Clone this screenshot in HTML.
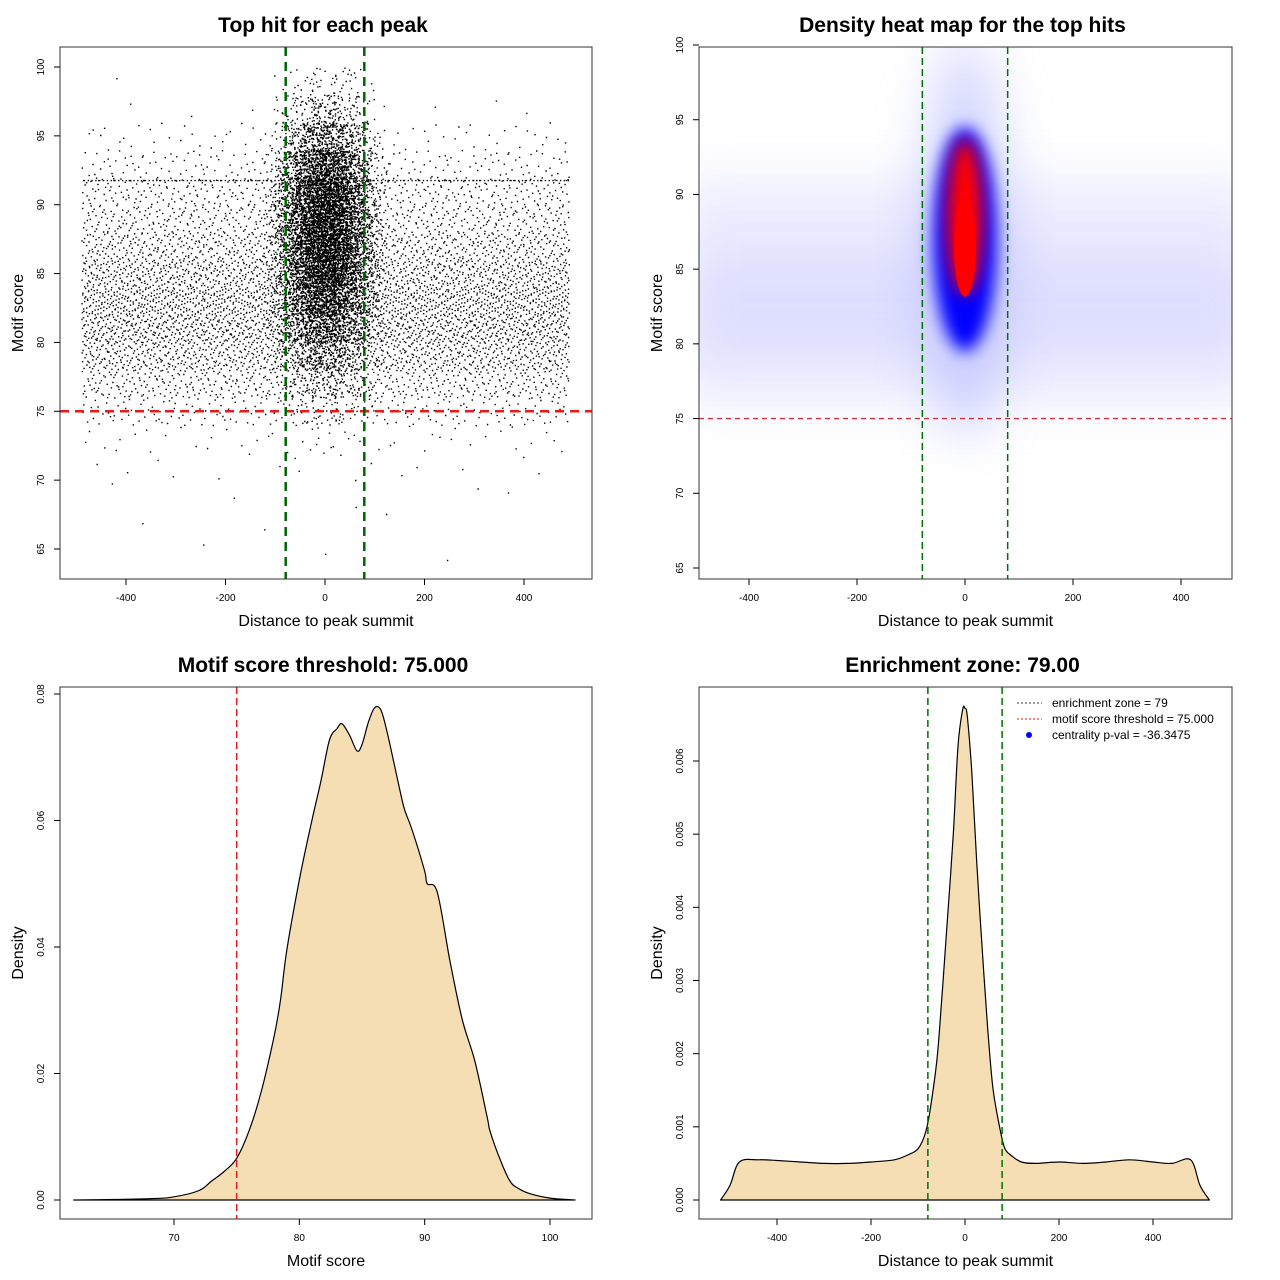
<!DOCTYPE html>
<html><head><meta charset="utf-8"><style>
html,body{margin:0;padding:0;background:#fff}
svg{display:block;font-family:"Liberation Sans",sans-serif}
</style></head><body>
<svg id="root" width="1280" height="1280" viewBox="0 0 1280 1280" xmlns="http://www.w3.org/2000/svg">
<defs>
<filter id="b8" x="-50%" y="-50%" width="200%" height="200%"><feGaussianBlur stdDeviation="8"/></filter>
<filter id="b14" x="-50%" y="-50%" width="200%" height="200%"><feGaussianBlur stdDeviation="14"/></filter>
<filter id="b25" x="-50%" y="-50%" width="200%" height="200%"><feGaussianBlur stdDeviation="25"/></filter>
<clipPath id="c2"><rect x="699" y="47" width="533" height="532"/></clipPath>
</defs>
<g id="p1"></g>
<g id="p2"></g>
<g id="p3"></g>
<g id="p4"></g>
</svg>
<script>
// ---- data ----
const scoreBinStarts = [64,66,68,70,72,74,76,78,80,82,84,86,88,90,92,94,96,98];
const backgroundCounts = [3,3,5,15,45,200,480,800,1000,1050,880,650,460,360,180,70,8,2];
const centralCounts = [0,0,0,2,8,40,120,280,560,880,1200,1400,1400,1300,900,450,170,50];
const bandScore = 91.8;
const bandCount = 160;

const heatBlobX = [0, 0, 0, 0];
const heatBlobY = [87, 87, 88.5, 86.5];

const scoreDensX = [62,68,70,72,73,74,75,76,77,78,78.5,79,80,81,81.7,82.4,83,83.4,84,84.6,85,85.5,86,86.5,87,88,88.4,89,90,90.2,91,92,93,94,95,95.2,96,96.8,97.5,98.4,100,102];
const scoreDensY = [0,0.0002,0.0005,0.0015,0.003,0.0045,0.0066,0.011,0.0174,0.026,0.0316,0.0395,0.0506,0.06,0.066,0.0727,0.0745,0.0753,0.0735,0.071,0.072,0.0755,0.0778,0.0775,0.074,0.065,0.0617,0.0585,0.052,0.050,0.0487,0.038,0.0285,0.022,0.013,0.011,0.0065,0.003,0.0018,0.001,0.0003,0];

const distDensX = [-520,-500,-480,-440,-400,-350,-300,-250,-200,-150,-120,-100,-85,-75,-60,-50,-40,-25,-15,-5,0,5,15,25,40,50,60,75,85,100,120,150,200,250,300,350,400,440,480,500,520];
const distDensY = [0,0.0002,0.00052,0.00055,0.00054,0.00052,0.0005,0.0005,0.00052,0.00055,0.00062,0.0007,0.0009,0.0012,0.0019,0.0027,0.0036,0.0050,0.0062,0.0067,0.00672,0.0066,0.0058,0.0046,0.0031,0.0022,0.0015,0.00095,0.0007,0.0006,0.00052,0.0005,0.00052,0.0005,0.00052,0.00055,0.00052,0.0005,0.00055,0.0002,0];

// ---- helpers ----
const NS="http://www.w3.org/2000/svg";
function mk(parent,tag,attrs,text){const e=document.createElementNS(NS,tag);for(const k in attrs)e.setAttribute(k,attrs[k]);if(text!==undefined)e.textContent=text;parent.appendChild(e);return e;}
function lin(d0,d1,r0,r1){return v=>r0+(v-d0)*(r1-r0)/(d1-d0);}
function halton(i,b){let f=1,r=0;while(i>0){f/=b;r+=f*(i%b);i=Math.floor(i/b);}return r;}
function smooth(pts){let d=`L${pts[0][0].toFixed(1)} ${pts[0][1].toFixed(1)}`;
  for(let i=0;i<pts.length-1;i++){const p0=pts[Math.max(0,i-1)],p1=pts[i],p2=pts[i+1],p3=pts[Math.min(pts.length-1,i+2)];
    const c1=[p1[0]+(p2[0]-p0[0])/6,p1[1]+(p2[1]-p0[1])/6],c2=[p2[0]-(p3[0]-p1[0])/6,p2[1]-(p3[1]-p1[1])/6];
    d+=`C${c1[0].toFixed(1)} ${c1[1].toFixed(1)} ${c2[0].toFixed(1)} ${c2[1].toFixed(1)} ${p2[0].toFixed(1)} ${p2[1].toFixed(1)}`;}
  return d;}

function frame(g,x0,y0,w,h,title,xlab,ylab,sx,xt,sy,yt,ylabs){
  const t=mk(g,'text',{x:x0+w/2-3,y:y0-15,'text-anchor':'middle','font-size':21,'font-weight':'bold'},title);
  
  const r=mk(g,'rect',{x:x0,y:y0,width:w,height:h,fill:'none',stroke:'#333','stroke-width':1});
  
  const xa=mk(g,'g',{});
  xt.forEach(v=>{const X=sx(v);mk(xa,'line',{x1:X,x2:X,y1:y0+h,y2:y0+h+6,stroke:'#000'});
    const tl=mk(xa,'text',{x:X,y:y0+h+22,'text-anchor':'middle','font-size':10},String(v));
    });
  const ya=mk(g,'g',{});
  yt.forEach((v,i)=>{const Y=sy(v);mk(ya,'line',{x1:x0-6,x2:x0,y1:Y,y2:Y,stroke:'#000'});
    const tl=mk(ya,'text',{x:x0-16,y:Y,'text-anchor':'middle','font-size':10,transform:`rotate(-90 ${x0-16} ${Y})`},ylabs?ylabs[i]:String(v));
    });
  const xl=mk(g,'text',{x:x0+w/2,y:y0+h+47,'text-anchor':'middle','font-size':16},xlab);
  
  const yx=x0-37,yy=y0+h/2;
  const yl=mk(g,'text',{x:yx,y:yy,'text-anchor':'middle','font-size':16,transform:`rotate(-90 ${yx} ${yy})`},ylab);
  
}

// ---- panel 1 scatter ----
(function(){
  const g=document.getElementById('p1');
  const sx=lin(0,400,325,524), sy=lin(65,100,549,67);
  let d='';let k=1;
  const dot=(x,y)=>{d+=`M${sx(x).toFixed(1)} ${sy(y).toFixed(1)}h1.4v1.4h-1.4z`;};
  scoreBinStarts.forEach((s,i)=>{
    for(let j=0;j<backgroundCounts[i];j++,k++){dot(-490+980*halton(k,2), s+2*halton(k,3));}
    for(let j=0;j<centralCounts[i];j++,k++){
      const u=(halton(k,2)+halton(k,5)+halton(k,7)-1.5);
      dot(u*90, s+2*halton(k,3));}
  });
  for(let j=0;j<bandCount;j++,k++){const x=-490+980*halton(k,2); if(Math.abs(x)>80) dot(x,bandScore);}
  const p=mk(g,'path',{d:d,fill:'#000'});
  const l1=mk(g,'line',{x1:60,x2:592,y1:sy(75),y2:sy(75),stroke:'#e41a1c','stroke-width':2.5,'stroke-dasharray':'9,6'});
  
  [-79,79].forEach(v=>{const l=mk(g,'line',{x1:sx(v),x2:sx(v),y1:47,y2:579,stroke:'#006400','stroke-width':2.5,'stroke-dasharray':'9,6'});
    });
  frame(g,60,47,532,532,'Top hit for each peak','Distance to peak summit','Motif score',sx,[-400,-200,0,200,400],sy,[65,70,75,80,85,90,95,100]);
})();

// ---- panel 2 heatmap ----
(function(){
  const g=document.getElementById('p2');
  const sx=lin(0,200,965,1073), sy=lin(65,100,568,45);
  const c=mk(g,'g',{'clip-path':'url(#c2)'});
  const haze=mk(c,'rect',{x:680,y:sy(91),width:580,height:sy(76)-sy(91),fill:'#c0c0ff',opacity:0.3,filter:'url(#b25)'});
  
  const haze2=mk(c,'rect',{x:680,y:sy(86),width:580,height:sy(79)-sy(86),fill:'#b0b0ff',opacity:0.22,filter:'url(#b25)'});
  
  const glow=mk(c,'ellipse',{cx:sx(heatBlobX[0]),cy:sy(heatBlobY[0]),rx:45,ry:200,fill:'#aab0ff',opacity:0.5,filter:'url(#b25)'});
  
  const blue=mk(c,'ellipse',{cx:sx(heatBlobX[1]),cy:sy(heatBlobY[1]),rx:32,ry:112,fill:'#0000ff',filter:'url(#b8)'});
  
  const red=mk(c,'ellipse',{cx:sx(heatBlobX[2]),cy:sy(heatBlobY[2]),rx:18,ry:78,fill:'#ff0000',filter:'url(#b8)'});
  
  const red2=mk(c,'ellipse',{cx:sx(heatBlobX[3]),cy:sy(heatBlobY[3]),rx:11,ry:50,fill:'#ff0000'});
  
  const l1=mk(g,'line',{x1:699,x2:1232,y1:sy(75),y2:sy(75),stroke:'#c8323c','stroke-width':1.3,'stroke-dasharray':'5,4'});
  
  [-79,79].forEach(v=>{const l=mk(g,'line',{x1:sx(v),x2:sx(v),y1:47,y2:579,stroke:'#007000','stroke-width':1.5,'stroke-dasharray':'7,4'});
    });
  frame(g,699,47,533,532,'Density heat map for the top hits','Distance to peak summit','Motif score',sx,[-400,-200,0,200,400],sy,[65,70,75,80,85,90,95,100]);
})();

// ---- panel 3 ----
(function(){
  const g=document.getElementById('p3');
  const sx=lin(70,100,174,550), sy=lin(0,0.08,1200,694);
  const pts=scoreDensX.map((x,i)=>[sx(x),sy(scoreDensY[i])]);
  let d=`M${sx(scoreDensX[0])} ${sy(0)}`+smooth(pts)+`L${sx(scoreDensX[scoreDensX.length-1])} ${sy(0)}Z`;
  const p=mk(g,'path',{d:d,fill:'#f5deb3',stroke:'#000','stroke-width':1.2,'stroke-linejoin':'round'});
  
  const l=mk(g,'line',{x1:sx(75),x2:sx(75),y1:687,y2:1219,stroke:'#e41a1c','stroke-width':1.5,'stroke-dasharray':'7,4'});
  
  frame(g,60,687,532,532,'Motif score threshold: 75.000','Motif score','Density',sx,[70,80,90,100],sy,[0,0.02,0.04,0.06,0.08],['0.00','0.02','0.04','0.06','0.08']);
})();

// ---- panel 4 ----
(function(){
  const g=document.getElementById('p4');
  const sx=lin(0,400,965,1153), sy=lin(0,0.006,1200,761);
  const pts=distDensX.map((x,i)=>[sx(x),sy(distDensY[i])]);
  let d=`M${sx(distDensX[0])} ${sy(0)}`+smooth(pts)+'Z';
  const p=mk(g,'path',{d:d,fill:'#f5deb3',stroke:'#000','stroke-width':1.2,'stroke-linejoin':'round'});
  
  [-79,79].forEach(v=>{const l=mk(g,'line',{x1:sx(v),x2:sx(v),y1:687,y2:1219,stroke:'#007000','stroke-width':1.5,'stroke-dasharray':'7,4'});
    });
  frame(g,699,687,533,532,'Enrichment zone: 79.00','Distance to peak summit','Density',sx,[-400,-200,0,200,400],sy,[0,0.001,0.002,0.003,0.004,0.005,0.006],['0.000','0.001','0.002','0.003','0.004','0.005','0.006']);
  const lg=mk(g,'g',{});
  const items=[['enrichment zone = 79','#333','line'],['motif score threshold = 75.000','#e41a1c','line'],['centrality p-val = -36.3475','#0000ff','dot']];
  items.forEach((it,i)=>{const y=703+i*16;
    const e=mk(lg,'g',{});
    if(it[2]==='line')mk(e,'line',{x1:1017,x2:1042,y1:y,y2:y,stroke:it[1],'stroke-dasharray':'2,2'});
    else mk(e,'circle',{cx:1029,cy:y,r:3,fill:it[1]});
    mk(e,'text',{x:1052,y:y+4,'font-size':12},it[0]);});
})();
</script>
</body></html>
